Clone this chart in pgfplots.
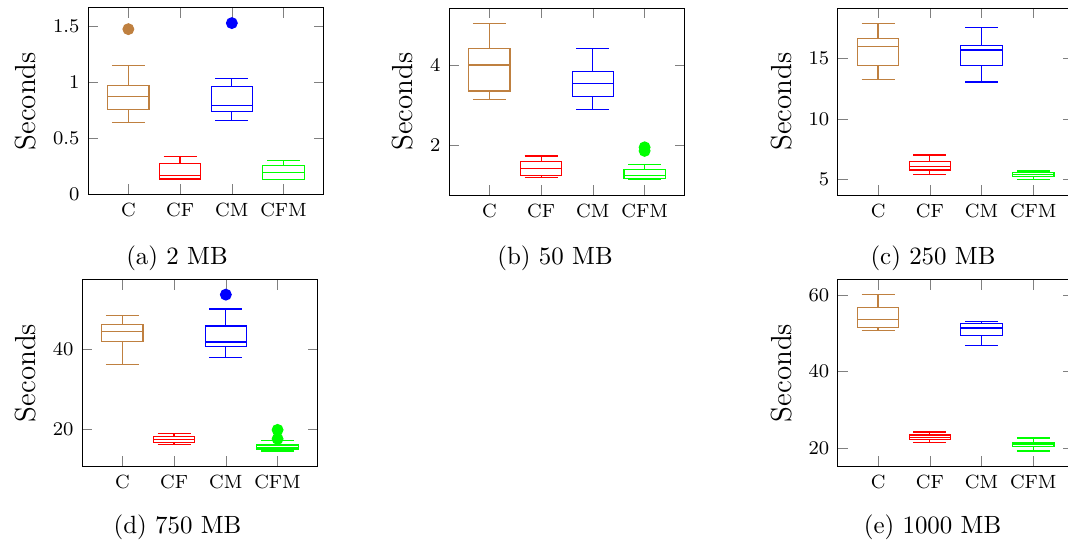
\documentclass[border=0pt]{standalone}
\usepackage{pgfplots}
\pgfplotsset{compat=1.18}
\usepgfplotslibrary{statistics}
\definecolor{cbrown}{rgb}{0.75,0.5,0.25}

\pgfplotsset{
  sub/.style={
    scale only axis,
    width=97.5pt, height=77.4pt,
    anchor=north west,
    boxplot/draw direction=y,
    xmin=0.22, xmax=4.78,
    xtick={1,2,3,4},
    xticklabels={C,CF,CM,CFM},
    tick label style={font=\fontsize{7.9}{9}\selectfont},
    ylabel={Seconds},
    ylabel style={font=\fontsize{12}{14}\selectfont},
  },
  bx/.style={line width=0.5pt, mark=*, mark size=2.2pt, draw=#1, mark options={fill=#1, draw=#1, solid}},
}

\begin{document}
\begin{tikzpicture}
\path[use as bounding box] (0,0) rectangle (441.32pt,-226.03pt);

% (a) 2 MB
\begin{axis}[sub, at={(36.36pt,-3.10pt)}, ymin=-0.005, ymax=1.666, ytick={0,0.5,1,1.5}]
\addplot[bx=cbrown, boxplot prepared={draw direction=y, lower whisker=0.640, lower quartile=0.759, median=0.872, upper quartile=0.967, upper whisker=1.149}] coordinates {(0,1.473)};
\addplot[bx=red, boxplot prepared={draw direction=y, lower whisker=0.136, lower quartile=0.137, median=0.167, upper quartile=0.274, upper whisker=0.336}] coordinates {};
\addplot[bx=blue, boxplot prepared={draw direction=y, lower whisker=0.658, lower quartile=0.741, median=0.789, upper quartile=0.958, upper whisker=1.033}] coordinates {(0,1.527)};
\addplot[bx=green, boxplot prepared={draw direction=y, lower whisker=0.133, lower quartile=0.134, median=0.193, upper quartile=0.259, upper whisker=0.301}] coordinates {};
\end{axis}

% (b) 50 MB
\begin{axis}[sub, at={(185.54pt,-3.31pt)}, ymin=0.753, ymax=5.42, ytick={2,4}]
\addplot[bx=cbrown, boxplot prepared={draw direction=y, lower whisker=3.133, lower quartile=3.350, median=4.000, upper quartile=4.408, upper whisker=5.033}] coordinates {};
\addplot[bx=red, boxplot prepared={draw direction=y, lower whisker=1.200, lower quartile=1.250, median=1.425, upper quartile=1.592, upper whisker=1.733}] coordinates {};
\addplot[bx=blue, boxplot prepared={draw direction=y, lower whisker=2.892, lower quartile=3.225, median=3.533, upper quartile=3.842, upper whisker=4.408}] coordinates {};
\addplot[bx=green, boxplot prepared={draw direction=y, lower whisker=1.142, lower quartile=1.167, median=1.242, upper quartile=1.400, upper whisker=1.525}] coordinates {(0,1.95) (0,1.86)};
\end{axis}

% (c) 250 MB
\begin{axis}[sub, at={(346.16pt,-3.31pt)}, ymin=3.71, ymax=19.19, ytick={5,10,15}]
\addplot[bx=cbrown, boxplot prepared={draw direction=y, lower whisker=13.26, lower quartile=14.45, median=16.02, upper quartile=16.66, upper whisker=17.90}] coordinates {};
\addplot[bx=red, boxplot prepared={draw direction=y, lower whisker=5.41, lower quartile=5.80, median=6.10, upper quartile=6.49, upper whisker=7.04}] coordinates {};
\addplot[bx=blue, boxplot prepared={draw direction=y, lower whisker=13.07, lower quartile=14.45, median=15.72, upper quartile=16.10, upper whisker=17.57}] coordinates {};
\addplot[bx=green, boxplot prepared={draw direction=y, lower whisker=5.00, lower quartile=5.25, median=5.44, upper quartile=5.58, upper whisker=5.72}] coordinates {};
\end{axis}

% (d) 750 MB
\begin{axis}[sub, at={(33.88pt,-115.41pt)}, ymin=10.75, ymax=57.5, ytick={20,40}]
\addplot[bx=cbrown, boxplot prepared={draw direction=y, lower whisker=36.33, lower quartile=41.92, median=44.42, upper quartile=46.25, upper whisker=48.42}] coordinates {};
\addplot[bx=red, boxplot prepared={draw direction=y, lower whisker=16.33, lower quartile=16.75, median=17.50, upper quartile=18.17, upper whisker=19.08}] coordinates {};
\addplot[bx=blue, boxplot prepared={draw direction=y, lower whisker=37.92, lower quartile=40.75, median=41.83, upper quartile=45.83, upper whisker=50.08}] coordinates {(0,53.67)};
\addplot[bx=green, boxplot prepared={draw direction=y, lower whisker=14.67, lower quartile=15.17, median=15.58, upper quartile=16.17, upper whisker=17.33}] coordinates {(0,19.92) (0,17.67)};
\end{axis}

% (e) 1000 MB
\begin{axis}[sub, at={(346.16pt,-115.41pt)}, ymin=15.1, ymax=64.25, ytick={20,40,60}]
\addplot[bx=cbrown, boxplot prepared={draw direction=y, lower whisker=50.79, lower quartile=51.67, median=53.68, upper quartile=56.93, upper whisker=60.18}] coordinates {};
\addplot[bx=red, boxplot prepared={draw direction=y, lower whisker=21.49, lower quartile=22.28, median=22.81, upper quartile=23.42, upper whisker=24.21}] coordinates {};
\addplot[bx=blue, boxplot prepared={draw direction=y, lower whisker=46.84, lower quartile=49.56, median=51.49, upper quartile=52.63, upper whisker=53.25}] coordinates {};
\addplot[bx=green, boxplot prepared={draw direction=y, lower whisker=19.21, lower quartile=20.44, median=21.05, upper quartile=21.49, upper whisker=22.63}] coordinates {};
\end{axis}

\begin{scope}[every node/.style={font=\fontsize{10.3}{12}\selectfont, anchor=base, inner sep=0pt}]
\node at (73.14pt,-109.09pt) {(a) 2 MB};
\node at (229.34pt,-109.09pt) {(b) 50 MB};
\node at (385.53pt,-109.09pt) {(c) 250 MB};
\node at (73.35pt,-220.25pt) {(d) 750 MB};
\node at (385.33pt,-220.25pt) {(e) 1000 MB};
\end{scope}
\end{tikzpicture}
\end{document}
